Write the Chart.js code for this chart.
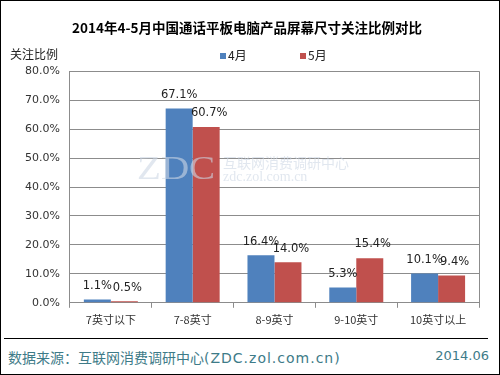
<!DOCTYPE html>
<html>
<head>
<meta charset="utf-8">
<script src="https://cdn.jsdelivr.net/npm/chart.js@4/dist/chart.umd.min.js"></script>
<style>
    html, body { margin: 0; padding: 0; background: #fff; }
    #frame {
        position: relative;
        width: 500px; height: 375px;
        box-sizing: border-box;
        border: 1px solid #000;
        font-family: "Noto Sans CJK SC", "DejaVu Sans", sans-serif;
        overflow: hidden;
    }
    #chart-box { position: absolute; left: 0; top: 0; width: 498px; height: 336px; }
    #y-title { position: absolute; left: 9px; top: 44px; font-size: 12px; color: #222; }
    #legend { position: absolute; top: 46px; left: 0; width: 498px; height: 16px; }
    .legend-item { position: absolute; top: 0; font-size: 12px; color: #222; line-height: 16px; }
    .legend-item span {
        display: inline-block; width: 6px; height: 6px;
        margin-right: 2px; vertical-align: 1px;
    }
    #footer-line { position: absolute; left: 3px; top: 337px; width: 484px; border-top: 1px solid #000; }
    #source {
        position: absolute; left: 7px; top: 346px; font-size: 14px; color: #3e7b88;
        font-family: "DejaVu Sans", "Noto Sans CJK SC", sans-serif;
    }
    #source .site { letter-spacing: 1px; }
    #date {
        position: absolute; right: 10px; top: 347px; font-size: 13px; color: #3e7b88;
        font-family: "DejaVu Sans", sans-serif;
    }
</style>
</head>
<body>
<div id="frame">
    <div id="chart-box"><canvas id="size-chart"></canvas></div>
    <div id="y-title">关注比例</div>
    <div id="legend"></div>
    <div id="footer-line"></div>
    <div id="source">数据来源：互联网消费调研中心<span class="site">(ZDC.zol.com.cn)</span></div>
    <div id="date">2014.06</div>
</div>
<script>
// Screen size categories
const categories = ['7英寸以下', '7-8英寸', '8-9英寸', '9-10英寸', '10英寸以上'];
const seriesNames = ['4月', '5月'];
// Share of attention (%)
const aprilValues = [1.1, 67.1, 16.4, 5.3, 10.1];
const mayValues = [0.5, 60.7, 14.0, 15.4, 9.4];
const yTicks = [0, 10, 20, 30, 40, 50, 60, 70, 80];

const BLUE = '#4f81bd';
const RED = '#c0504d';
const seriesColors = [BLUE, RED];

// Value labels above each bar
const barLabels = {
    id: 'barLabels',
    afterDatasetsDraw(chart) {
        const ctx = chart.ctx;
        ctx.save();
        ctx.font = '11.5px "DejaVu Sans", sans-serif';
        ctx.fillStyle = '#222';
        ctx.textAlign = 'center';
        ctx.textBaseline = 'bottom';
        chart.data.datasets.forEach((ds, i) => {
            chart.getDatasetMeta(i).data.forEach((bar, j) => {
                ctx.fillText(ds.data[j].toFixed(1) + '%', bar.x + i * 3, bar.y - 8);
            });
        });
        ctx.restore();
    }
};

// Right border of plot area, faint ZDC watermark
const decorations = {
    id: 'decorations',
    beforeDatasetsDraw(chart) {
        const ctx = chart.ctx;
        const area = chart.chartArea;
        ctx.save();
        ctx.strokeStyle = '#8c8c8c';
        ctx.lineWidth = 1;
        ctx.beginPath();
        ctx.moveTo(Math.round(area.right) + 0.5, area.top);
        ctx.lineTo(Math.round(area.right) + 0.5, area.bottom);
        ctx.stroke();
        ctx.restore();
    },
    afterDatasetsDraw(chart) {
        const ctx = chart.ctx;
        ctx.save();
        ctx.fillStyle = 'rgba(205, 215, 228, 0.6)';
        ctx.textBaseline = 'alphabetic';
        ctx.font = '34px "Liberation Serif", serif';
        ctx.save();
        ctx.translate(136, 178);
        ctx.scale(1.15, 1);
        ctx.fillText('ZDC', 0, 0);
        ctx.restore();
        ctx.font = '14px "Noto Sans CJK SC", sans-serif';
        ctx.fillText('互联网消费调研中心', 222, 167);
        ctx.font = '14px "Liberation Serif", serif';
        ctx.fillText('zdc.zol.com.cn', 222, 180);
        ctx.restore();
    }
};

// Legend built from the dataset names and colours
const legendBox = document.getElementById('legend');
const legendLeft = [219, 299];
seriesNames.forEach((name, i) => {
    const item = document.createElement('div');
    item.className = 'legend-item';
    item.style.left = legendLeft[i] + 'px';
    item.innerHTML = `<span style="background:${seriesColors[i]}"></span>${name}`;
    legendBox.appendChild(item);
});

new Chart(document.getElementById('size-chart'), {
    type: 'bar',
    data: {
        labels: categories,
        datasets: [
            { label: seriesNames[0], data: aprilValues, backgroundColor: BLUE },
            { label: seriesNames[1], data: mayValues, backgroundColor: RED }
        ]
    },
    options: {
        responsive: true,
        maintainAspectRatio: false,
        animation: false,
        layout: { padding: { left: 14, right: 20, top: 8, bottom: 6 } },
        datasets: {
            bar: { categoryPercentage: 0.66, barPercentage: 1.0 }
        },
        plugins: {
            title: {
                display: true,
                text: '2014年4-5月中国通话平板电脑产品屏幕尺寸关注比例对比',
                color: '#000',
                font: { family: '"Noto Sans CJK SC", sans-serif', size: 13.5, weight: 'bold' },
                padding: { top: 11, bottom: 35 }
            },
            legend: { display: false },
            tooltip: { enabled: false }
        },
        scales: {
            x: {
                offset: true,
                grid: { display: true, drawOnChartArea: false, tickLength: 5, color: '#8c8c8c', offset: true },
                border: { color: '#8c8c8c' },
                ticks: {
                    color: '#333',
                    padding: 5,
                    font: { family: '"Noto Sans CJK SC", sans-serif', size: 11 }
                }
            },
            y: {
                min: 0,
                max: 80,
                afterBuildTicks(axis) { axis.ticks = yTicks.map(v => ({ value: v })); },
                grid: { color: '#8c8c8c', drawTicks: false },
                border: { color: '#8c8c8c' },
                ticks: {
                    color: '#333',
                    padding: 10,
                    font: { family: '"DejaVu Sans", sans-serif', size: 11 },
                    callback: v => v.toFixed(1) + '%'
                }
            }
        }
    },
    plugins: [barLabels, decorations]
});
</script>
</body>
</html>
